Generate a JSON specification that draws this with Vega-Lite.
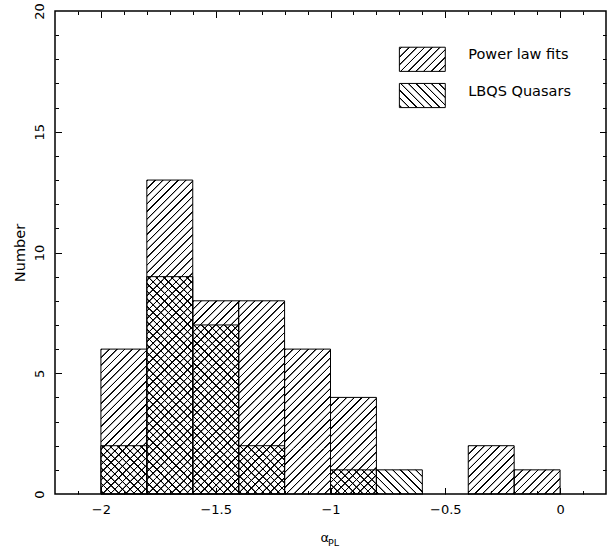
{
"$schema":"https://vega.github.io/schema/vega-lite/v6.json",
"width":551,"height":483,
"autosize":"none",
"padding":{"left":55,"top":11,"right":1,"bottom":59},
"config":{"view":{"stroke":"#000","strokeWidth":1.5},"font":"DejaVu Sans","axis":{"labelFont":"DejaVu Sans","titleFont":"DejaVu Sans","labelColor":"#000","titleColor":"#000","tickColor":"#000","tickWidth":1}},
"params":[
{"name":"hatchPL","value":{"gradient":"linear","x1":0,"y1":0,"x2":0.5561,"y2":1.20488,"stops":[
{"offset":0,"color":"transparent"},{"offset":0.0034,"color":"#000"},{"offset":0.0103,"color":"#000"},{"offset":0.0138,"color":"transparent"},
{"offset":0.0526,"color":"transparent"},{"offset":0.056,"color":"#000"},{"offset":0.0629,"color":"#000"},{"offset":0.0664,"color":"transparent"},
{"offset":0.1053,"color":"transparent"},{"offset":0.1087,"color":"#000"},{"offset":0.1156,"color":"#000"},{"offset":0.1191,"color":"transparent"},
{"offset":0.1579,"color":"transparent"},{"offset":0.1613,"color":"#000"},{"offset":0.1682,"color":"#000"},{"offset":0.1717,"color":"transparent"},
{"offset":0.2105,"color":"transparent"},{"offset":0.2139,"color":"#000"},{"offset":0.2208,"color":"#000"},{"offset":0.2243,"color":"transparent"},
{"offset":0.2632,"color":"transparent"},{"offset":0.2666,"color":"#000"},{"offset":0.2735,"color":"#000"},{"offset":0.277,"color":"transparent"},
{"offset":0.3158,"color":"transparent"},{"offset":0.3192,"color":"#000"},{"offset":0.3261,"color":"#000"},{"offset":0.3296,"color":"transparent"},
{"offset":0.3684,"color":"transparent"},{"offset":0.3718,"color":"#000"},{"offset":0.3787,"color":"#000"},{"offset":0.3822,"color":"transparent"},
{"offset":0.4211,"color":"transparent"},{"offset":0.4245,"color":"#000"},{"offset":0.4314,"color":"#000"},{"offset":0.4349,"color":"transparent"},
{"offset":0.4737,"color":"transparent"},{"offset":0.4771,"color":"#000"},{"offset":0.484,"color":"#000"},{"offset":0.4875,"color":"transparent"},
{"offset":0.5263,"color":"transparent"},{"offset":0.5297,"color":"#000"},{"offset":0.5366,"color":"#000"},{"offset":0.5401,"color":"transparent"},
{"offset":0.5789,"color":"transparent"},{"offset":0.5823,"color":"#000"},{"offset":0.5892,"color":"#000"},{"offset":0.5927,"color":"transparent"},
{"offset":0.6316,"color":"transparent"},{"offset":0.635,"color":"#000"},{"offset":0.6419,"color":"#000"},{"offset":0.6454,"color":"transparent"},
{"offset":0.6842,"color":"transparent"},{"offset":0.6876,"color":"#000"},{"offset":0.6945,"color":"#000"},{"offset":0.698,"color":"transparent"},
{"offset":0.7368,"color":"transparent"},{"offset":0.7402,"color":"#000"},{"offset":0.7471,"color":"#000"},{"offset":0.7506,"color":"transparent"},
{"offset":0.7895,"color":"transparent"},{"offset":0.7929,"color":"#000"},{"offset":0.7998,"color":"#000"},{"offset":0.8033,"color":"transparent"},
{"offset":0.8421,"color":"transparent"},{"offset":0.8455,"color":"#000"},{"offset":0.8524,"color":"#000"},{"offset":0.8559,"color":"transparent"},
{"offset":0.8947,"color":"transparent"},{"offset":0.8981,"color":"#000"},{"offset":0.905,"color":"#000"},{"offset":0.9085,"color":"transparent"},
{"offset":0.9474,"color":"transparent"},{"offset":0.9508,"color":"#000"},{"offset":0.9577,"color":"#000"},{"offset":0.9612,"color":"transparent"}
]}},
{"name":"hatchLQ","value":{"gradient":"linear","x1":0,"y1":1,"x2":0.5561,"y2":-0.20488,"stops":[
{"offset":0,"color":"transparent"},{"offset":0.0034,"color":"#000"},{"offset":0.0103,"color":"#000"},{"offset":0.0138,"color":"transparent"},
{"offset":0.0526,"color":"transparent"},{"offset":0.056,"color":"#000"},{"offset":0.0629,"color":"#000"},{"offset":0.0664,"color":"transparent"},
{"offset":0.1053,"color":"transparent"},{"offset":0.1087,"color":"#000"},{"offset":0.1156,"color":"#000"},{"offset":0.1191,"color":"transparent"},
{"offset":0.1579,"color":"transparent"},{"offset":0.1613,"color":"#000"},{"offset":0.1682,"color":"#000"},{"offset":0.1717,"color":"transparent"},
{"offset":0.2105,"color":"transparent"},{"offset":0.2139,"color":"#000"},{"offset":0.2208,"color":"#000"},{"offset":0.2243,"color":"transparent"},
{"offset":0.2632,"color":"transparent"},{"offset":0.2666,"color":"#000"},{"offset":0.2735,"color":"#000"},{"offset":0.277,"color":"transparent"},
{"offset":0.3158,"color":"transparent"},{"offset":0.3192,"color":"#000"},{"offset":0.3261,"color":"#000"},{"offset":0.3296,"color":"transparent"},
{"offset":0.3684,"color":"transparent"},{"offset":0.3718,"color":"#000"},{"offset":0.3787,"color":"#000"},{"offset":0.3822,"color":"transparent"},
{"offset":0.4211,"color":"transparent"},{"offset":0.4245,"color":"#000"},{"offset":0.4314,"color":"#000"},{"offset":0.4349,"color":"transparent"},
{"offset":0.4737,"color":"transparent"},{"offset":0.4771,"color":"#000"},{"offset":0.484,"color":"#000"},{"offset":0.4875,"color":"transparent"},
{"offset":0.5263,"color":"transparent"},{"offset":0.5297,"color":"#000"},{"offset":0.5366,"color":"#000"},{"offset":0.5401,"color":"transparent"},
{"offset":0.5789,"color":"transparent"},{"offset":0.5823,"color":"#000"},{"offset":0.5892,"color":"#000"},{"offset":0.5927,"color":"transparent"},
{"offset":0.6316,"color":"transparent"},{"offset":0.635,"color":"#000"},{"offset":0.6419,"color":"#000"},{"offset":0.6454,"color":"transparent"},
{"offset":0.6842,"color":"transparent"},{"offset":0.6876,"color":"#000"},{"offset":0.6945,"color":"#000"},{"offset":0.698,"color":"transparent"},
{"offset":0.7368,"color":"transparent"},{"offset":0.7402,"color":"#000"},{"offset":0.7471,"color":"#000"},{"offset":0.7506,"color":"transparent"},
{"offset":0.7895,"color":"transparent"},{"offset":0.7929,"color":"#000"},{"offset":0.7998,"color":"#000"},{"offset":0.8033,"color":"transparent"},
{"offset":0.8421,"color":"transparent"},{"offset":0.8455,"color":"#000"},{"offset":0.8524,"color":"#000"},{"offset":0.8559,"color":"transparent"},
{"offset":0.8947,"color":"transparent"},{"offset":0.8981,"color":"#000"},{"offset":0.905,"color":"#000"},{"offset":0.9085,"color":"transparent"},
{"offset":0.9474,"color":"transparent"},{"offset":0.9508,"color":"#000"},{"offset":0.9577,"color":"#000"},{"offset":0.9612,"color":"transparent"}
]}}
],
"datasets":{"bins":[
{"lo":-2.0,"hi":-1.8,"pl":6,"lq":2},
{"lo":-1.8,"hi":-1.6,"pl":13,"lq":9},
{"lo":-1.6,"hi":-1.4,"pl":8,"lq":7},
{"lo":-1.4,"hi":-1.2,"pl":8,"lq":2},
{"lo":-1.2,"hi":-1.0,"pl":6,"lq":0},
{"lo":-1.0,"hi":-0.8,"pl":4,"lq":1},
{"lo":-0.8,"hi":-0.6,"pl":0,"lq":1},
{"lo":-0.6,"hi":-0.4,"pl":0,"lq":0},
{"lo":-0.4,"hi":-0.2,"pl":2,"lq":0},
{"lo":-0.2,"hi":0.0,"pl":1,"lq":0}
]},
"data":{"name":"bins"},
"layer":[
{"transform":[{"filter":"datum.pl > 0"}],
"mark":{"type":"rect","fill":{"expr":"hatchPL"},"strokeWidth":0,"clip":true,"yOffset":0,"y2Offset":99.486},
"encoding":{
"x":{"field":"lo","type":"quantitative","scale":{"domain":[-2.2,0.2],"nice":false,"zero":false},"axis":{"orient":"bottom","values":[-2,-1.5,-1,-0.5,0],"format":"~g","ticks":false,"domain":false,"grid":false,"labelFontSize":13,"labelPadding":9,"labelFlush":false,"title":null}},
"x2":{"field":"hi"},
"y":{"field":"pl","type":"quantitative","scale":{"domain":[0,20],"nice":false,"zero":false},"axis":{"orient":"left","values":[0,5,10,15,20],"ticks":false,"domain":false,"grid":false,"labelAngle":-90,"labelAlign":"center","labelBaseline":"bottom","labelFontSize":13,"labelPadding":9,"labelFlush":false,"title":"Number","titleFontSize":14.5,"titleFontWeight":"normal","titlePadding":6}},
"y2":{"field":"pl"}
}},
{"transform":[{"filter":"datum.pl > 3"}],
"mark":{"type":"rect","fill":{"expr":"hatchPL"},"strokeWidth":0,"clip":true,"yOffset":99.486,"y2Offset":198.972},
"encoding":{
"x":{"field":"lo","type":"quantitative","scale":{"domain":[-2.2,0.2],"nice":false,"zero":false},"axis":null},
"x2":{"field":"hi"},
"y":{"field":"pl","type":"quantitative","scale":{"domain":[0,20],"nice":false,"zero":false},"axis":null},
"y2":{"field":"pl"}
}},
{"transform":[{"filter":"datum.pl > 7"}],
"mark":{"type":"rect","fill":{"expr":"hatchPL"},"strokeWidth":0,"clip":true,"yOffset":198.972,"y2Offset":298.458},
"encoding":{
"x":{"field":"lo","type":"quantitative","scale":{"domain":[-2.2,0.2],"nice":false,"zero":false},"axis":null},
"x2":{"field":"hi"},
"y":{"field":"pl","type":"quantitative","scale":{"domain":[0,20],"nice":false,"zero":false},"axis":null},
"y2":{"field":"pl"}
}},
{"transform":[{"filter":"datum.pl > 11"}],
"mark":{"type":"rect","fill":{"expr":"hatchPL"},"strokeWidth":0,"clip":true,"yOffset":298.458,"y2Offset":397.944},
"encoding":{
"x":{"field":"lo","type":"quantitative","scale":{"domain":[-2.2,0.2],"nice":false,"zero":false},"axis":null},
"x2":{"field":"hi"},
"y":{"field":"pl","type":"quantitative","scale":{"domain":[0,20],"nice":false,"zero":false},"axis":null},
"y2":{"field":"pl"}
}},
{"transform":[{"filter":"datum.lq > 0"}],
"mark":{"type":"rect","fill":{"expr":"hatchLQ"},"strokeWidth":0,"clip":true,"yOffset":0,"y2Offset":99.486},
"encoding":{
"x":{"field":"lo","type":"quantitative","scale":{"domain":[-2.2,0.2],"nice":false,"zero":false},"axis":{"orient":"top","offset":-483,"values":[-2.1,-2,-1.9,-1.8,-1.7,-1.6,-1.5,-1.4,-1.3,-1.2,-1.1,-1,-0.9,-0.8,-0.7,-0.6,-0.5,-0.4,-0.3,-0.2,-0.1,0,0.1],"labels":false,"domain":false,"grid":false,"ticks":true,"tickSize":{"condition":{"test":"datum.value % 0.5 === 0","value":6.5},"value":3.5},"title":null,"zindex":2}},
"x2":{"field":"hi"},
"y":{"field":"lq","type":"quantitative","scale":{"domain":[0,20],"nice":false,"zero":false},"axis":{"orient":"right","offset":-551,"values":[1,2,3,4,5,6,7,8,9,10,11,12,13,14,15,16,17,18,19],"labels":false,"domain":false,"grid":false,"ticks":true,"tickSize":{"condition":{"test":"datum.value % 5 === 0","value":6.5},"value":3.5},"title":null,"zindex":2}},
"y2":{"field":"lq"}
}},
{"transform":[{"filter":"datum.lq > 3"}],
"mark":{"type":"rect","fill":{"expr":"hatchLQ"},"strokeWidth":0,"clip":true,"yOffset":99.486,"y2Offset":198.972},
"encoding":{
"x":{"field":"lo","type":"quantitative","scale":{"domain":[-2.2,0.2],"nice":false,"zero":false},"axis":null},
"x2":{"field":"hi"},
"y":{"field":"lq","type":"quantitative","scale":{"domain":[0,20],"nice":false,"zero":false},"axis":null},
"y2":{"field":"lq"}
}},
{"transform":[{"filter":"datum.lq > 7"}],
"mark":{"type":"rect","fill":{"expr":"hatchLQ"},"strokeWidth":0,"clip":true,"yOffset":198.972,"y2Offset":298.458},
"encoding":{
"x":{"field":"lo","type":"quantitative","scale":{"domain":[-2.2,0.2],"nice":false,"zero":false},"axis":null},
"x2":{"field":"hi"},
"y":{"field":"lq","type":"quantitative","scale":{"domain":[0,20],"nice":false,"zero":false},"axis":null},
"y2":{"field":"lq"}
}},
{"transform":[{"filter":"datum.pl > 0"}],
"mark":{"type":"rect","fillOpacity":0,"stroke":"#000","strokeWidth":1},
"encoding":{
"x":{"field":"lo","type":"quantitative","scale":{"domain":[-2.2,0.2],"nice":false,"zero":false},"axis":{"orient":"bottom","offset":-483,"values":[-2.1,-2,-1.9,-1.8,-1.7,-1.6,-1.5,-1.4,-1.3,-1.2,-1.1,-1,-0.9,-0.8,-0.7,-0.6,-0.5,-0.4,-0.3,-0.2,-0.1,0,0.1],"labels":false,"domain":false,"grid":false,"ticks":true,"tickSize":{"condition":{"test":"datum.value % 0.5 === 0","value":6.5},"value":3.5},"title":null,"zindex":2}},
"x2":{"field":"hi"},
"y":{"field":"pl","type":"quantitative","scale":{"domain":[0,20],"nice":false,"zero":false},"axis":{"orient":"left","offset":-551,"values":[1,2,3,4,5,6,7,8,9,10,11,12,13,14,15,16,17,18,19],"labels":false,"domain":false,"grid":false,"ticks":true,"tickSize":{"condition":{"test":"datum.value % 5 === 0","value":6.5},"value":3.5},"title":null,"zindex":2}},
"y2":{"datum":0}
}},
{"transform":[{"filter":"datum.lq > 0"}],
"mark":{"type":"rect","fillOpacity":0,"stroke":"#000","strokeWidth":1},
"encoding":{
"x":{"field":"lo","type":"quantitative","scale":{"domain":[-2.2,0.2],"nice":false,"zero":false},"axis":null},
"x2":{"field":"hi"},
"y":{"field":"lq","type":"quantitative","scale":{"domain":[0,20],"nice":false,"zero":false},"axis":null},
"y2":{"datum":0}
}},
{"data":{"values":[{"s":"Power law fits"}]},
"mark":{"type":"rect","stroke":"#000","strokeWidth":1,"fill":{"gradient":"linear","x1":0,"y1":0,"x2":1.19531,"y2":0.62868,"stops":[
{"offset":0.02,"color":"transparent"},{"offset":0.0271,"color":"#000"},{"offset":0.0414,"color":"#000"},{"offset":0.0485,"color":"transparent"},
{"offset":0.1292,"color":"transparent"},{"offset":0.1363,"color":"#000"},{"offset":0.1506,"color":"#000"},{"offset":0.1577,"color":"transparent"},
{"offset":0.2384,"color":"transparent"},{"offset":0.2455,"color":"#000"},{"offset":0.2598,"color":"#000"},{"offset":0.2669,"color":"transparent"},
{"offset":0.3477,"color":"transparent"},{"offset":0.3548,"color":"#000"},{"offset":0.3691,"color":"#000"},{"offset":0.3762,"color":"transparent"},
{"offset":0.4569,"color":"transparent"},{"offset":0.464,"color":"#000"},{"offset":0.4783,"color":"#000"},{"offset":0.4854,"color":"transparent"},
{"offset":0.5661,"color":"transparent"},{"offset":0.5732,"color":"#000"},{"offset":0.5875,"color":"#000"},{"offset":0.5946,"color":"transparent"},
{"offset":0.6753,"color":"transparent"},{"offset":0.6824,"color":"#000"},{"offset":0.6967,"color":"#000"},{"offset":0.7038,"color":"transparent"},
{"offset":0.7845,"color":"transparent"},{"offset":0.7916,"color":"#000"},{"offset":0.8059,"color":"#000"},{"offset":0.813,"color":"transparent"},
{"offset":0.8938,"color":"transparent"},{"offset":0.9009,"color":"#000"},{"offset":0.9152,"color":"#000"},{"offset":0.9223,"color":"transparent"}
]}},
"encoding":{
"x":{"datum":-0.7,"type":"quantitative","scale":{"domain":[-2.2,0.2],"nice":false,"zero":false},"axis":null},
"x2":{"datum":-0.5},
"y":{"datum":18.5,"type":"quantitative","scale":{"domain":[0,20],"nice":false,"zero":false},"axis":null},
"y2":{"datum":17.5}
}},
{"data":{"values":[{"s":"LBQS Quasars"}]},
"mark":{"type":"rect","stroke":"#000","strokeWidth":1,"fill":{"gradient":"linear","x1":0,"y1":1,"x2":1.19531,"y2":0.37132,"stops":[
{"offset":0.02,"color":"transparent"},{"offset":0.0271,"color":"#000"},{"offset":0.0414,"color":"#000"},{"offset":0.0485,"color":"transparent"},
{"offset":0.1292,"color":"transparent"},{"offset":0.1363,"color":"#000"},{"offset":0.1506,"color":"#000"},{"offset":0.1577,"color":"transparent"},
{"offset":0.2384,"color":"transparent"},{"offset":0.2455,"color":"#000"},{"offset":0.2598,"color":"#000"},{"offset":0.2669,"color":"transparent"},
{"offset":0.3477,"color":"transparent"},{"offset":0.3548,"color":"#000"},{"offset":0.3691,"color":"#000"},{"offset":0.3762,"color":"transparent"},
{"offset":0.4569,"color":"transparent"},{"offset":0.464,"color":"#000"},{"offset":0.4783,"color":"#000"},{"offset":0.4854,"color":"transparent"},
{"offset":0.5661,"color":"transparent"},{"offset":0.5732,"color":"#000"},{"offset":0.5875,"color":"#000"},{"offset":0.5946,"color":"transparent"},
{"offset":0.6753,"color":"transparent"},{"offset":0.6824,"color":"#000"},{"offset":0.6967,"color":"#000"},{"offset":0.7038,"color":"transparent"},
{"offset":0.7845,"color":"transparent"},{"offset":0.7916,"color":"#000"},{"offset":0.8059,"color":"#000"},{"offset":0.813,"color":"transparent"},
{"offset":0.8938,"color":"transparent"},{"offset":0.9009,"color":"#000"},{"offset":0.9152,"color":"#000"},{"offset":0.9223,"color":"transparent"}
]}},
"encoding":{
"x":{"datum":-0.7,"type":"quantitative","scale":{"domain":[-2.2,0.2],"nice":false,"zero":false},"axis":null},
"x2":{"datum":-0.5},
"y":{"datum":17,"type":"quantitative","scale":{"domain":[0,20],"nice":false,"zero":false},"axis":null},
"y2":{"datum":16}
}},
{"data":{"values":[{"s":"Power law fits"}]},
"mark":{"type":"text","font":"DejaVu Sans","fontSize":14.5,"color":"#000","align":"left","baseline":"alphabetic"},
"encoding":{
"x":{"datum":-0.4,"type":"quantitative","scale":{"domain":[-2.2,0.2],"nice":false,"zero":false},"axis":null},
"y":{"datum":18,"type":"quantitative","scale":{"domain":[0,20],"nice":false,"zero":false},"axis":null},
"text":{"field":"s"}
}},
{"data":{"values":[{"s":"LBQS Quasars"}]},
"mark":{"type":"text","font":"DejaVu Sans","fontSize":14.5,"color":"#000","align":"left","baseline":"alphabetic"},
"encoding":{
"x":{"datum":-0.4,"type":"quantitative","scale":{"domain":[-2.2,0.2],"nice":false,"zero":false},"axis":null},
"y":{"datum":16.5,"type":"quantitative","scale":{"domain":[0,20],"nice":false,"zero":false},"axis":null},
"text":{"field":"s"}
}},
{"data":{"values":[{"s":"α"}]},
"mark":{"type":"text","font":"DejaVu Sans","fontSize":13,"color":"#000","align":"center","baseline":"alphabetic","clip":false},
"encoding":{
"x":{"datum":-1.025,"type":"quantitative","scale":{"domain":[-2.2,0.2],"nice":false,"zero":false},"axis":null},
"y":{"datum":-2.0,"type":"quantitative","scale":{"domain":[0,20],"nice":false,"zero":false},"axis":null},
"text":{"field":"s"}
}},
{"data":{"values":[{"s":"PL"}]},
"mark":{"type":"text","font":"DejaVu Sans","fontSize":9.5,"color":"#000","align":"left","baseline":"alphabetic","clip":false},
"encoding":{
"x":{"datum":-1.011,"type":"quantitative","scale":{"domain":[-2.2,0.2],"nice":false,"zero":false},"axis":null},
"y":{"datum":-2.15,"type":"quantitative","scale":{"domain":[0,20],"nice":false,"zero":false},"axis":null},
"text":{"field":"s"}
}}
],
"resolve":{"axis":{"x":"independent","y":"independent"}}
}
